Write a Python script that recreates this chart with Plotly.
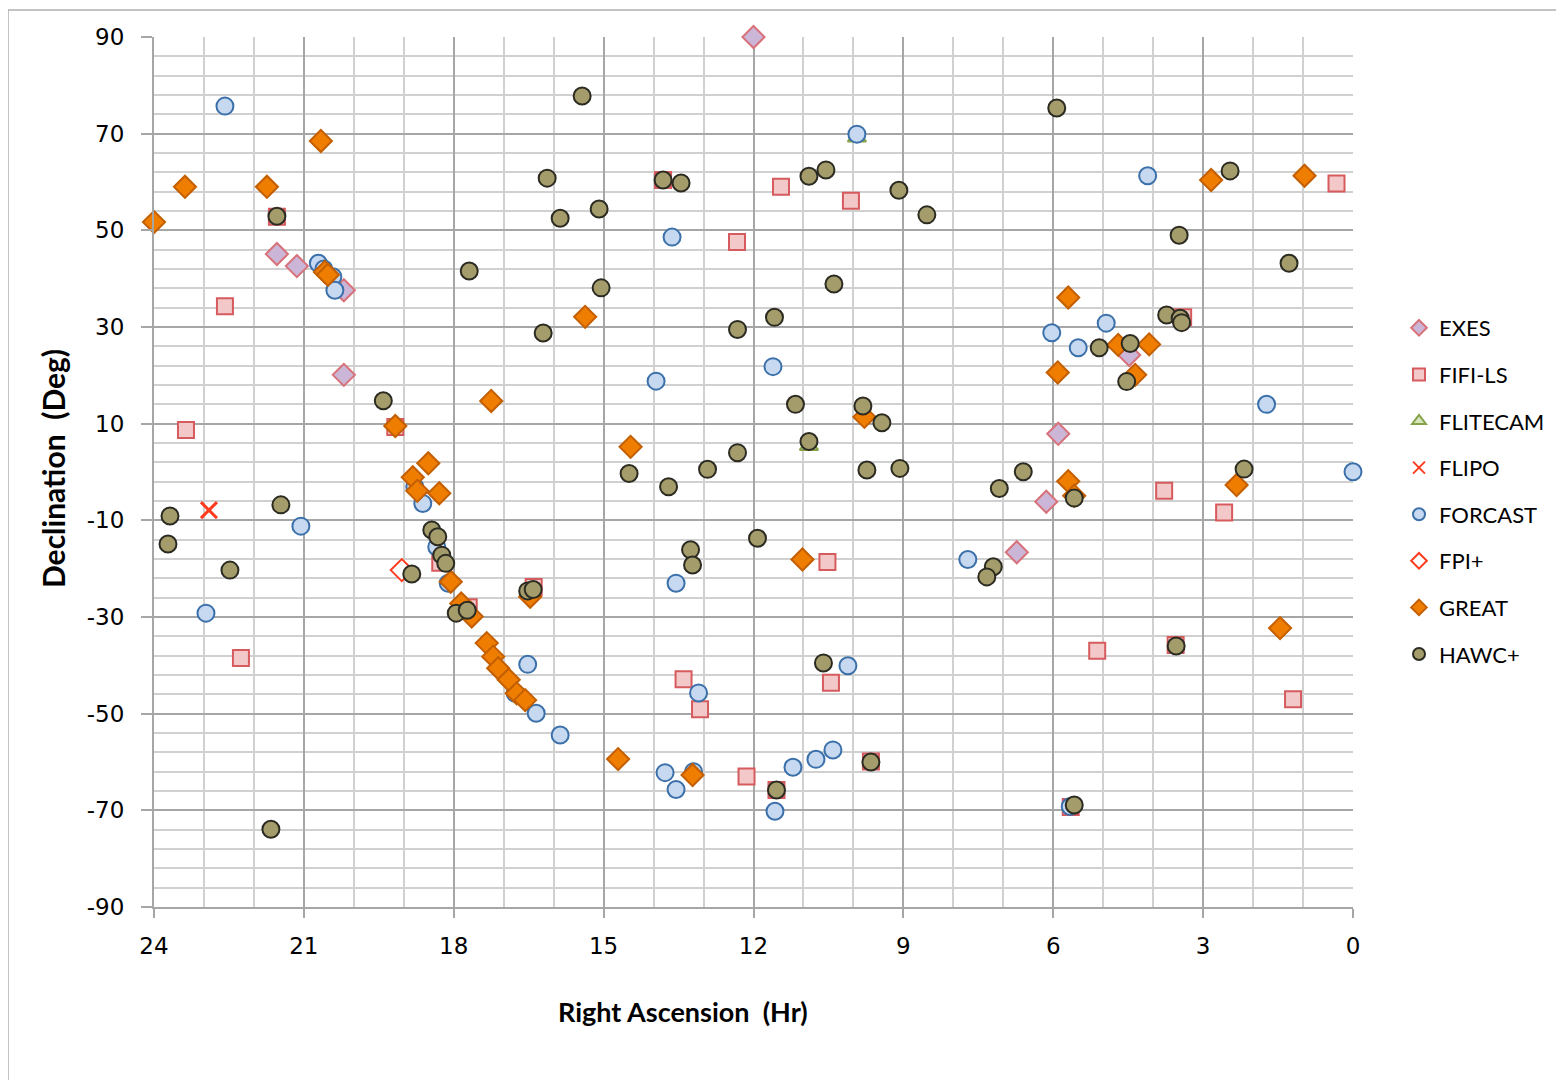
import plotly.graph_objects as go

# ---- data (RA in hours, Dec in degrees) ----
exes_ra  = [12.0, 21.54, 21.14, 20.2, 20.2, 4.48, 5.9, 6.14, 6.73]
exes_dec = [90.0, 45.1, 42.6, 37.6, 20.1, 24.2, 7.9, -6.15, -16.6]

fifi_ra  = [21.54, 22.58, 23.36, 22.26, 19.17, 18.27, 16.4, 17.7, 13.81, 12.33, 11.45, 10.05,
            13.4, 13.07, 12.14, 11.54, 10.52, 10.45, 9.65, 5.65, 5.12, 3.78, 3.55, 2.58, 1.2, 0.33, 3.4]
fifi_dec = [52.8, 34.3, 8.7, -38.5, 9.3, -18.8, -23.8, -28.0, 60.4, 47.6, 59.0, 56.1,
            -42.9, -49.1, -63.0, -65.8, -18.6, -43.6, -59.9, -69.3, -37.0, -3.9, -35.8, -8.4, -47.0, 59.7, 32.0]

flitecam_ra  = [9.93, 10.89]
flitecam_dec = [69.2, 5.4]

flipo_ra  = [22.9]
flipo_dec = [-7.9]

forcast_ra  = [22.58, 22.96, 21.06, 20.71, 20.6, 20.42, 20.38, 18.62, 18.78, 18.34, 18.11,
               16.52, 16.77, 16.35, 15.87, 13.95, 13.63, 13.55, 13.77, 13.55, 13.2, 13.1,
               11.57, 11.21, 10.75, 10.41, 10.11, 9.93, 11.61, 7.71, 6.03, 5.5, 4.94, 4.11,
               1.73, 0.0, 5.66]
forcast_dec = [75.7, -29.2, -11.2, 43.2, 42.0, 40.4, 37.6, -6.5, -3.05, -15.5, -23.0,
               -39.8, -45.8, -49.9, -54.4, 18.8, 48.6, -23.0, -62.2, -65.7, -62.0, -45.7,
               -70.2, -61.1, -59.45, -57.5, -40.1, 69.9, 21.8, -18.1, 28.8, 25.7, 30.8, 61.3,
               14.0, 0.06, -69.2]

fpi_ra  = [19.04]
fpi_dec = [-20.3]

great_ra  = [24.0, 23.38, 21.74, 20.66, 20.58, 20.52, 19.17, 18.51, 18.82, 18.73, 18.29, 18.06,
             17.85, 17.64, 17.34, 17.21, 17.11, 16.9, 16.74, 16.57, 16.47, 17.25, 15.37, 14.46,
             14.71, 13.22, 11.02, 9.78, 5.91, 5.7, 5.7, 5.58, 4.7, 4.36, 4.08, 2.84, 2.33, 1.46, 0.97]
great_dec = [51.7, 59.0, 59.0, 68.5, 41.4, 40.8, 9.5, 1.8, -1.1, -3.9, -4.4, -22.7,
             -27.2, -29.9, -35.4, -38.2, -40.6, -43.0, -45.8, -47.2, -25.8, 14.7, 32.1, 5.2,
             -59.4, -62.7, -18.1, 11.4, 20.6, 36.1, -1.9, -4.9, 26.3, 20.1, 26.4, 60.4, -2.7, -32.3, 61.3]

hawc_ra  = [23.68, 23.72, 22.48, 21.46, 21.66, 21.54, 19.41, 18.84, 18.44, 18.32, 18.24, 18.16,
            17.95, 17.73, 17.69, 16.52, 16.41, 16.21, 16.13, 15.87, 15.43, 15.09, 15.05, 14.49,
            13.81, 13.45, 13.7, 13.26, 13.22, 12.92, 12.32, 12.32, 11.92, 11.58, 11.16, 10.89,
            10.89, 10.55, 10.39, 10.6, 9.81, 9.73, 9.43, 9.09, 9.07, 8.53, 9.65, 11.54, 7.2,
            7.33, 7.08, 6.6, 5.93, 5.58, 5.58, 5.08, 4.53, 4.46, 3.73, 3.46, 3.43, 3.48, 3.54,
            2.46, 2.18, 1.28]
hawc_dec = [-9.1, -14.9, -20.3, -6.8, -73.9, 52.9, 14.75, -21.1, -12.0, -13.4, -17.2, -18.9,
            -29.2, -28.6, 41.6, -24.6, -24.3, 28.75, 60.8, 52.5, 77.8, 54.4, 38.1, -0.3,
            60.4, 59.8, -3.05, -16.1, -19.25, 0.55, 4.0, 29.5, -13.7, 32.0, 14.0, 6.3,
            61.2, 62.5, 38.9, -39.5, 13.65, 0.4, 10.2, 58.3, 0.75, 53.2, -60.0, -65.8, -19.6,
            -21.7, -3.4, 0.06, 75.3, -5.4, -68.9, 25.7, 18.7, 26.6, 32.5, 31.8, 30.9, 49.0, -36.0,
            62.3, 0.6, 43.2]

x_ticks = [24, 21, 18, 15, 12, 9, 6, 3, 0]
y_ticks = [90, 70, 50, 30, 10, -10, -30, -50, -70, -90]

series = [
    ("EXES", exes_ra, exes_dec, "diamond", "#cbb6d8", "#d8727a", 17),
    ("FIFI-LS", fifi_ra, fifi_dec, "square", "#f2c8c8", "#d65b5e", 16),
    ("FLITECAM", flitecam_ra, flitecam_dec, "triangle-up", "#d7e4bd", "#86a34a", 16),
    ("FLIPO", flipo_ra, flipo_dec, "x-thin", "#ff3b1f", "#ff3b1f", 16),
    ("FORCAST", forcast_ra, forcast_dec, "circle", "#c6d9f0", "#3b70aa", 17),
    ("FPI+", fpi_ra, fpi_dec, "diamond", "#ffffff", "#ff3b1f", 17),
    ("GREAT", great_ra, great_dec, "diamond", "#ee7d00", "#c35f00", 17),
    ("HAWC+", hawc_ra, hawc_dec, "circle", "#a49c6b", "#2c2b22", 17),
]

fig = go.Figure()
for name, xs, ys, sym, fill, edge, size in series:
    if sym == "x-thin":
        marker = dict(symbol=sym, size=size, color=fill, line=dict(color=edge, width=3))
    else:
        marker = dict(symbol=sym, size=size, color=fill, line=dict(color=edge, width=2))
    fig.add_trace(go.Scatter(x=xs, y=ys, mode="markers", name=name, marker=marker,
                             legendgroup=name, cliponaxis=False))

tick_font = dict(family="DejaVu Sans", size=23, color="#000000")
fig.update_xaxes(
    range=[24, 0], tickvals=x_ticks, ticktext=[str(v) for v in x_ticks],
    showgrid=True, gridcolor="#a6a6a6", gridwidth=1.5,
    minor=dict(dtick=1, tick0=0, showgrid=True, gridcolor="#d0d0d0", gridwidth=2,
               ticks=""),
    ticks="outside", ticklen=9, tickcolor="#a6a6a6", tickwidth=1.5,
    showline=True, linecolor="#a6a6a6", linewidth=2, mirror=False,
    tickfont=tick_font, zeroline=False, ticklabelstandoff=8,
)
fig.update_yaxes(
    range=[-90, 90], tickvals=y_ticks, ticktext=[str(v) for v in y_ticks],
    showgrid=True, gridcolor="#a6a6a6", gridwidth=1.5,
    minor=dict(dtick=4, tick0=-90, showgrid=True, gridcolor="#d0d0d0", gridwidth=2,
               ticks=""),
    ticks="outside", ticklen=11, tickcolor="#a6a6a6", tickwidth=1.5,
    showline=True, linecolor="#a6a6a6", linewidth=2,
    tickfont=tick_font, zeroline=False, ticklabelstandoff=12,
)

# the page adds an 8px body margin, so the figure is shrunk/shifted to compensate
OFF = 8
fig.update_layout(
    width=1564 - OFF, height=1080 - OFF,
    margin=dict(l=154 - OFF, r=211, t=37 - OFF, b=173),
    paper_bgcolor="white", plot_bgcolor="white",
    showlegend=True,
    legend=dict(x=(1399 - 154) / 1199, y=(907 - 307) / 870, xanchor="left", yanchor="top",
                font=dict(family="Lato", size=22, color="#000000"),
                tracegroupgap=15, itemsizing="constant", bgcolor="rgba(0,0,0,0)"),
    annotations=[
        dict(text="<b>Right Ascension&nbsp; (Hr)</b>", xref="paper", yref="paper",
             x=(683 - 154) / 1199, y=(907 - 1012) / 870, xanchor="center", yanchor="middle",
             showarrow=False, font=dict(family="Lato", size=27, color="#000000")),
        dict(text="<b>Declination&nbsp; (Deg)</b>", textangle=-90, xref="paper", yref="paper",
             x=(53 - 154) / 1199, y=(907 - 469) / 870, xanchor="center", yanchor="middle",
             showarrow=False, font=dict(family="Lato", size=30, color="#000000")),
    ],
    shapes=[dict(type="rect", xref="paper", yref="paper",
                 x0=(8 - 154) / 1199, x1=(1600 - 154) / 1199,
                 y0=(907 - 1100) / 870, y1=(907 - 10) / 870,
                 line=dict(color="#b0b0b0", width=1.5), layer="below")],
)

fig.write_html("out.html")
